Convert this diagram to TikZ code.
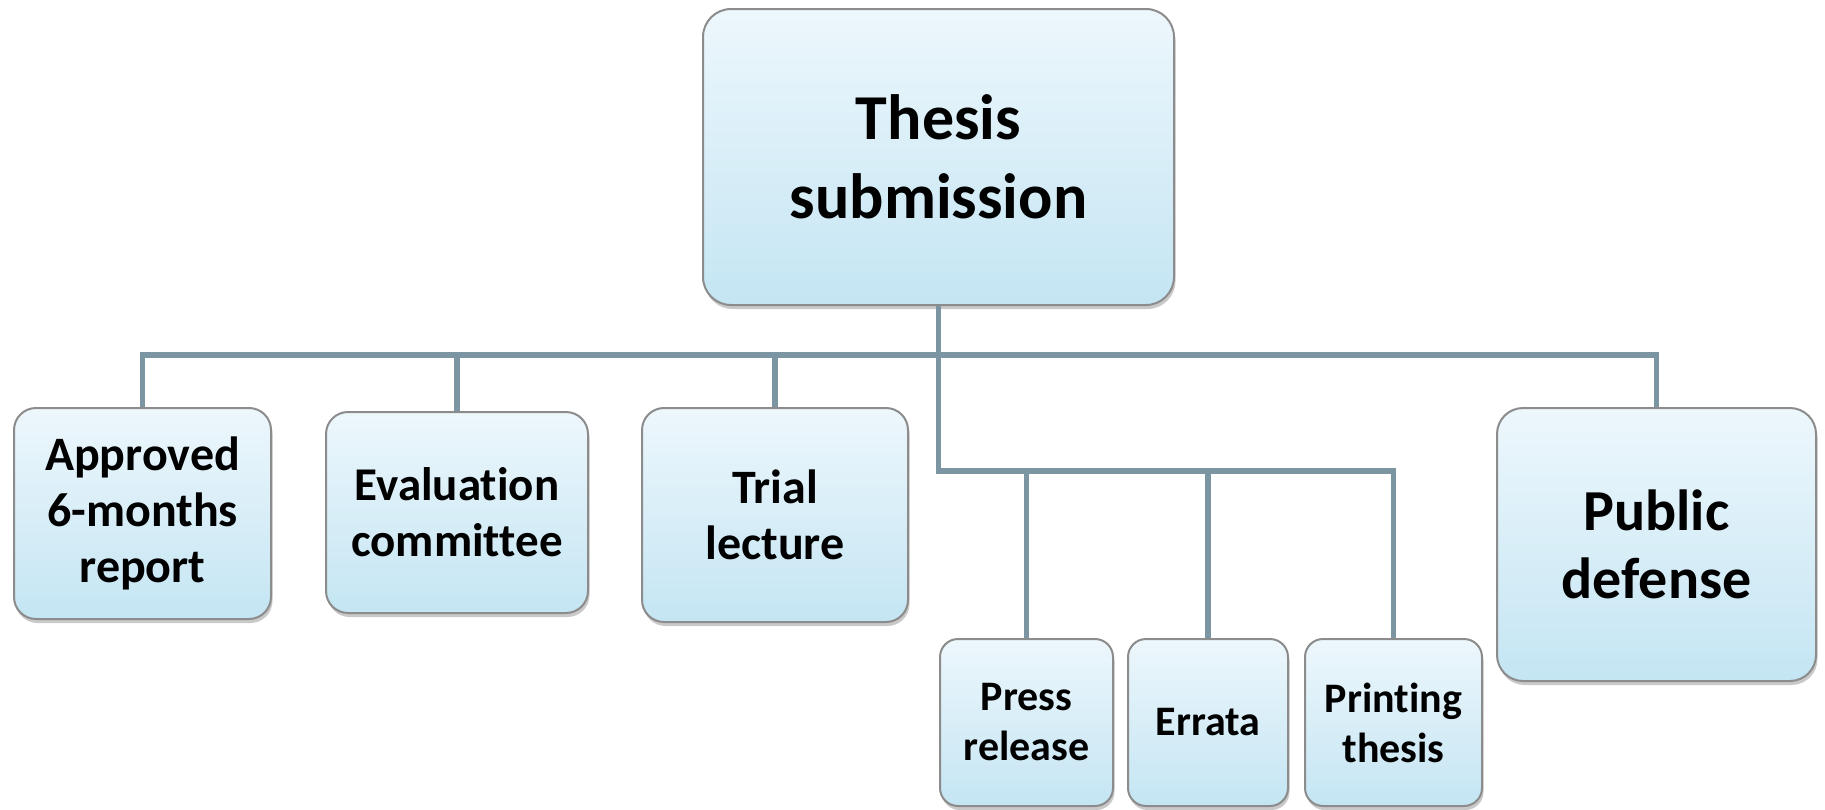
\documentclass[tikz,border=0pt]{standalone}
\usepackage{fontspec}
\setmainfont[Ligatures={NoCommon,NoContextual}]{Carlito}
\usetikzlibrary{shadows}
\definecolor{boxtop}{HTML}{EDF7FC}
\definecolor{boxbot}{HTML}{C4E5F3}
\definecolor{boxline}{HTML}{8C8C8C}
\definecolor{connc}{HTML}{7B96A2}
\tikzset{
  box/.style={draw=boxline, line width=2pt, top color=boxtop, bottom color=boxbot,
    align=center, inner sep=0pt, font=\bfseries,
    drop shadow={shadow xshift=1.5pt, shadow yshift=-4pt, opacity=0.3, fill=black!70}},
  conn/.style={draw=connc, line width=5.5pt, line join=miter},
}
\begin{document}
\begin{tikzpicture}[x=1pt,y=-1pt]
\useasboundingbox (0,0) rectangle (1825,809);
\node[box, rounded corners=28pt, minimum width=471pt, minimum height=296pt,
  font=\bfseries\fontsize{64}{79}\selectfont] (top) at (938.5,157) {Thesis\\submission};
\node[box, rounded corners=22pt, minimum width=257pt, minimum height=211pt,
  font=\bfseries\fontsize{48}{56}\selectfont] (appr) at (142.5,513.5) {Approved\\6-months\\report};
\node[box, rounded corners=22pt, minimum width=262pt, minimum height=201pt,
  font=\bfseries\fontsize{47}{56}\selectfont] (eval) at (457,512.5) {Evaluation\\committee};
\node[box, rounded corners=22pt, minimum width=266pt, minimum height=214pt,
  font=\bfseries\fontsize{48}{56}\selectfont] (trial) at (775,515) {Trial\\lecture};
\node[box, rounded corners=18pt, minimum width=173pt, minimum height=167pt,
  font=\bfseries\fontsize{42}{50}\selectfont] (press) at (1026.5,722.5) {Press\\release};
\node[box, rounded corners=18pt, minimum width=160pt, minimum height=167pt,
  font=\bfseries\fontsize{42}{50}\selectfont] (errata) at (1208,722.5) {Errata};
\node[box, rounded corners=18pt, minimum width=177pt, minimum height=167pt,
  font=\bfseries\fontsize{42}{50}\selectfont] (print) at (1393.5,722.5) {Printing\\thesis};
\node[box, rounded corners=26pt, minimum width=319pt, minimum height=273pt,
  font=\bfseries\fontsize{58}{68}\selectfont] (pub) at (1656.5,544.5) {Public\\defense};
\coordinate (busA) at (0,355);
\coordinate (busB) at (0,471);
% level 1
\draw[conn] (appr.north) -- (appr.north |- busA) -- (pub.north |- busA) -- (pub.north);
\draw[conn] (eval.north) -- (eval.north |- busA);
\draw[conn] (trial.north) -- (trial.north |- busA);
% trunk and level 2
\draw[conn] (top.south) -- (top.south |- busB) -- (print.north |- busB) -- (print.north);
\draw[conn] (press.north) -- (press.north |- busB);
\draw[conn] (errata.north) -- (errata.north |- busB);
\end{tikzpicture}
\end{document}
